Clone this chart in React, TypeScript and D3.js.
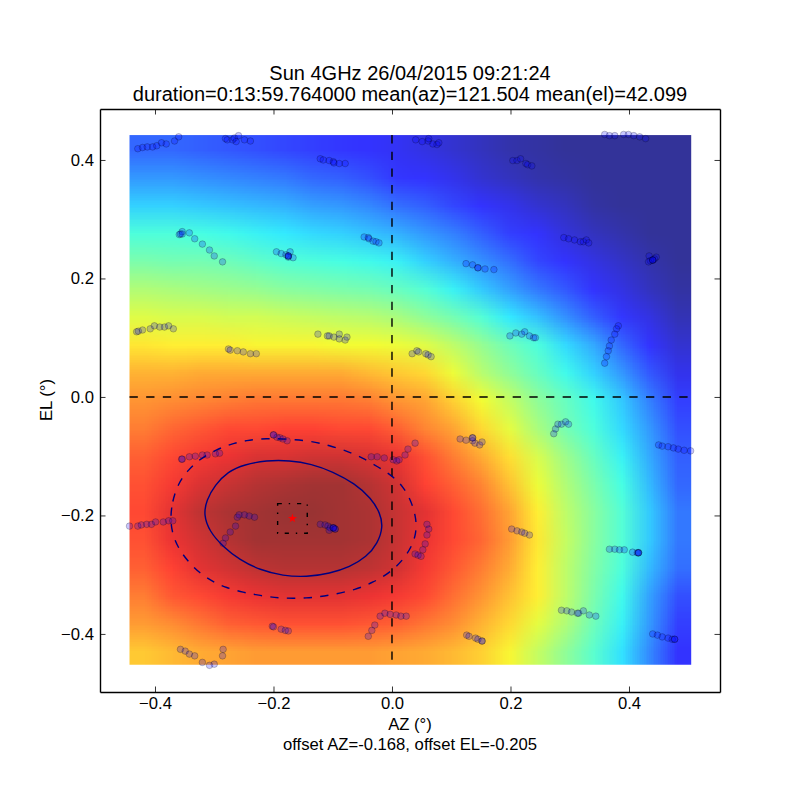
// @ts-nocheck
import React, { useEffect, useRef } from "react";
import * as d3 from "d3";

const FONT = "'Liberation Sans', Arial, sans-serif";

const xTicks = [-0.4, -0.2, 0, 0.2, 0.4];
const yTicks = [-0.4, -0.2, 0, 0.2, 0.4];

// image extent of the power map, in degrees
const mapAz = [-0.443, 0.505];
const mapEl = [0.442, -0.452];

// power map, percent of peak, top row first
const powerMap = [
  [19, 19, 18, 17, 16, 15, 14, 13, 12, 10, 8, 6, 4, 2, 1, 0, 0, 0, 0, 0],
  [25, 25, 24, 23, 22, 21, 19, 18, 16, 13, 11, 9, 6, 4, 2, 1, 0, 0, 0, 0],
  [32, 32, 31, 30, 29, 28, 26, 25, 23, 20, 18, 15, 12, 9, 6, 4, 1, 0, 0, 0],
  [39, 39, 38, 37, 36, 35, 33, 32, 30, 28, 25, 22, 18, 14, 11, 7, 4, 2, 0, 0],
  [46, 45, 45, 44, 42, 40, 39, 38, 37, 36, 32, 28, 24, 20, 15, 11, 8, 5, 2, 0],
  [54, 53, 52, 51, 50, 48, 47, 46, 45, 43, 40, 36, 31, 26, 21, 17, 12, 8, 4, 1],
  [61, 60, 60, 59, 59, 58, 57, 56, 55, 53, 49, 45, 40, 35, 30, 24, 18, 13, 8, 3],
  [67, 66, 66, 66, 65, 65, 65, 64, 64, 63, 61, 56, 50, 44, 39, 33, 27, 19, 12, 6],
  [74, 74, 75, 75, 75, 75, 75, 75, 73, 71, 69, 63, 55, 49, 43, 37, 32, 25, 17, 9],
  [78, 79, 80, 81, 82, 82, 82, 82, 81, 78, 76, 70, 64, 57, 49, 43, 37, 31, 22, 14],
  [81, 84, 86, 88, 88, 89, 89, 88, 88, 85, 80, 76, 69, 62, 53, 45, 39, 33, 25, 16],
  [85, 88, 90, 91, 93, 93, 94, 94, 93, 91, 87, 81, 75, 68, 60, 51, 43, 36, 27, 18],
  [87, 90, 93, 95, 97, 98, 99, 99, 97, 94, 89, 85, 80, 72, 63, 54, 46, 38, 29, 19],
  [88, 92, 96, 98, 99, 100, 100, 99, 98, 95, 92, 88, 83, 76, 66, 56, 48, 40, 31, 21],
  [87, 91, 94, 97, 99, 99, 99, 99, 98, 95, 91, 88, 84, 77, 67, 57, 48, 40, 31, 21],
  [85, 89, 92, 94, 96, 97, 97, 97, 96, 94, 90, 86, 81, 75, 66, 56, 47, 39, 29, 20],
  [81, 86, 88, 90, 91, 92, 92, 92, 91, 90, 88, 83, 78, 72, 66, 56, 46, 37, 26, 16],
  [77, 79, 82, 85, 86, 87, 87, 87, 86, 85, 82, 79, 74, 69, 62, 54, 44, 36, 25, 14],
  [71, 73, 75, 76, 77, 77, 77, 77, 77, 76, 75, 73, 70, 65, 57, 49, 41, 34, 23, 12],
];

// jet colormap stops
const jetStops = [0, 0.11, 0.125, 0.35, 0.375, 0.64, 0.66, 0.89, 0.91, 1];
const jetColors = ["#000080", "#0000ff", "#0000ff", "#00e5ff", "#16ffe1", "#f1fc00", "#ffeb00", "#ff1200", "#e80000", "#800000"];

// scan samples, one row per scan leg, last row holds the dwell repeats
const scanAz = [
  -0.429, -0.421, -0.413, -0.404, -0.397, -0.389, -0.381, -0.367, -0.36,
  -0.281, -0.278, -0.269, -0.266, -0.263, -0.259, -0.249, -0.239,
  -0.121, -0.116, -0.106, -0.099, -0.098, -0.089, -0.079,
  -0.354, -0.359, -0.357, -0.342, -0.333, -0.32, -0.308, -0.3, -0.286,
  -0.195, -0.187, -0.179, -0.175, -0.172, -0.175, -0.167,
  -0.047, -0.04, -0.039, -0.032, -0.027, -0.022,
  -0.431, -0.428, -0.421, -0.408, -0.401, -0.392, -0.384, -0.377, -0.369,
  -0.276, -0.273, -0.261, -0.251, -0.239, -0.229,
  -0.125, -0.109, -0.106, -0.098, -0.089, -0.089, -0.079, -0.076,
  0.04, 0.051, 0.061, 0.062, 0.069, 0.076, 0.079,
  0.204, 0.211, 0.217, 0.226, 0.229, 0.236,
  0.359, 0.367, 0.376, 0.391, 0.399, 0.408, 0.418, 0.428,
  0.29, 0.298, 0.308, 0.318, 0.323, 0.328, 0.332,
  0.434, 0.446, 0.443, 0.44, 0.436, 0.433,
  0.125, 0.136, 0.145, 0.157, 0.172,
  0.199, 0.209, 0.219, 0.224, 0.232, 0.239, 0.242,
  0.382, 0.379, 0.376, 0.37, 0.367, 0.365, 0.362, 0.359,
  0.034, 0.042, 0.045, 0.057, 0.061, 0.066,
  -0.2, -0.194, -0.189, -0.184, -0.177,
  -0.355, -0.354, -0.342, -0.332, -0.32, -0.312, -0.298, -0.291,
  -0.035, -0.025, -0.013, 0.002, 0.008, 0.012, 0.022, 0.027, 0.039,
  -0.443, -0.429, -0.423, -0.414, -0.406, -0.399, -0.386, -0.377, -0.37,
  -0.285, -0.281, -0.273, -0.264, -0.261, -0.258, -0.249, -0.241, -0.232,
  -0.121, -0.113, -0.108, -0.104, -0.106, -0.099, -0.096,
  -0.202, -0.2, -0.187, -0.18, -0.175,
  -0.357, -0.349, -0.342, -0.333, -0.32, -0.308, -0.3, -0.286, -0.285,
  -0.04, -0.034, -0.029, -0.02, -0.012, -0.003, 0.007, 0.015, 0.024,
  0.115, 0.125, 0.136, 0.136, 0.14, 0.148, 0.152,
  0.273, 0.276, 0.28, 0.286, 0.293, 0.298,
  0.45, 0.456, 0.466, 0.475, 0.483, 0.493, 0.504,
  0.059, 0.062, 0.059, 0.056, 0.052, 0.039, 0.044, 0.049,
  0.202, 0.211, 0.219, 0.224, 0.232,
  0.367, 0.376, 0.384, 0.392, 0.406, 0.414, 0.416,
  0.286, 0.295, 0.303, 0.313, 0.315, 0.323, 0.333, 0.344,
  0.126, 0.13, 0.141, 0.145, 0.152,
  0.44, 0.448, 0.456, 0.466, 0.473, 0.477,
  -0.099, -0.099, -0.096, 0.416, 0.416, 0.44, 0.44, -0.175, -0.175, -0.354, 0.145, 0.477, -0.2, 0.152, 0.136,
];
const scanEl = [
  0.419, 0.421, 0.422, 0.422, 0.424, 0.429, 0.427, 0.432, 0.439,
  0.436, 0.434, 0.434, 0.437, 0.431, 0.441, 0.434, 0.432,
  0.402, 0.4, 0.399, 0.397, 0.395, 0.394, 0.394,
  0.279, 0.274, 0.275, 0.277, 0.267, 0.258, 0.248, 0.238, 0.228,
  0.245, 0.242, 0.24, 0.238, 0.245, 0.236, 0.235,
  0.27, 0.269, 0.267, 0.263, 0.262, 0.26,
  0.11, 0.111, 0.113, 0.115, 0.12, 0.118, 0.118, 0.12, 0.115,
  0.081, 0.079, 0.078, 0.076, 0.073, 0.073,
  0.106, 0.103, 0.103, 0.101, 0.106, 0.098, 0.096, 0.101,
  0.434, 0.431, 0.432, 0.436, 0.427, 0.426, 0.429,
  0.399, 0.399, 0.402, 0.394, 0.392, 0.39,
  0.443, 0.441, 0.441, 0.443, 0.443, 0.441, 0.439, 0.436,
  0.269, 0.267, 0.265, 0.262, 0.262, 0.265, 0.26,
  0.238, 0.236, 0.233, 0.231, 0.23, 0.228,
  0.225, 0.223, 0.218, 0.216, 0.215,
  0.103, 0.108, 0.106, 0.11, 0.103, 0.1, 0.1,
  0.12, 0.115, 0.106, 0.096, 0.086, 0.078, 0.068, 0.057,
  0.073, 0.078, 0.076, 0.073, 0.071, 0.068,
  -0.064, -0.068, -0.069, -0.071, -0.074,
  -0.105, -0.105, -0.101, -0.1, -0.098, -0.098, -0.096, -0.095,
  -0.101, -0.101, -0.103, -0.106, -0.108, -0.106, -0.098, -0.088, -0.078,
  -0.218, -0.218, -0.216, -0.215, -0.215, -0.211, -0.211, -0.209, -0.209,
  -0.247, -0.238, -0.228, -0.218, -0.203, -0.199, -0.199, -0.201, -0.203,
  -0.215, -0.216, -0.218, -0.221, -0.225, -0.221, -0.223,
  -0.387, -0.388, -0.392, -0.394, -0.395,
  -0.426, -0.429, -0.434, -0.437, -0.448, -0.453, -0.451, -0.437, -0.426,
  -0.404, -0.394, -0.385, -0.37, -0.365, -0.367, -0.368, -0.37, -0.37,
  -0.071, -0.073, -0.069, -0.074, -0.078, -0.081, -0.076,
  -0.062, -0.054, -0.046, -0.046, -0.042, -0.046,
  -0.081, -0.083, -0.084, -0.086, -0.088, -0.09, -0.091,
  -0.215, -0.223, -0.233, -0.248, -0.258, -0.265, -0.267, -0.269,
  -0.223, -0.226, -0.228, -0.23, -0.233,
  -0.257, -0.257, -0.258, -0.258, -0.262, -0.263, -0.263,
  -0.36, -0.361, -0.363, -0.365, -0.365, -0.361, -0.368, -0.37,
  -0.402, -0.404, -0.407, -0.409, -0.412,
  -0.4, -0.402, -0.405, -0.407, -0.409, -0.409,
  -0.221, -0.221, -0.223, -0.263, -0.263, 0.231, 0.231, 0.238, 0.238, 0.275, 0.218, -0.409, -0.064, -0.412, -0.069,
];

// contours
const innerAz = [-0.318, -0.313, -0.299, -0.277, -0.249, -0.212, -0.173, -0.136, -0.1, -0.063, -0.035, -0.02, -0.015, -0.024, -0.043, -0.071, -0.105, -0.144, -0.184, -0.223, -0.257, -0.285, -0.308];
const innerEl = [-0.199, -0.174, -0.149, -0.126, -0.114, -0.107, -0.107, -0.113, -0.126, -0.146, -0.171, -0.196, -0.219, -0.247, -0.27, -0.287, -0.298, -0.304, -0.302, -0.292, -0.275, -0.253, -0.227];
const outerAz = [-0.374, -0.371, -0.361, -0.344, -0.322, -0.296, -0.274, -0.246, -0.212, -0.178, -0.139, -0.105, -0.074, -0.049, -0.024, -0.001, 0.019, 0.033, 0.041, 0.041, 0.033, 0.019, -0.004, -0.032, -0.06, -0.105, -0.144, -0.19, -0.223, -0.251, -0.28, -0.302, -0.325, -0.344, -0.361, -0.371];
const outerEl = [-0.205, -0.177, -0.146, -0.123, -0.103, -0.089, -0.08, -0.073, -0.07, -0.071, -0.074, -0.082, -0.092, -0.103, -0.118, -0.132, -0.151, -0.177, -0.205, -0.23, -0.253, -0.275, -0.297, -0.313, -0.325, -0.335, -0.34, -0.34, -0.335, -0.33, -0.322, -0.312, -0.297, -0.278, -0.255, -0.23];

const offsetAz = -0.168;
const offsetEl = -0.205;
const boxHalf = 0.025;

const App = () => {
  const svgRef = useRef();

  useEffect(() => {
    const left = 100;
    const right = 720;
    const top = 109;
    const bottom = 692;

    const svg = d3.select(svgRef.current);
    svg.selectAll("*").remove();

    const x = d3.scaleLinear().domain([-0.4928, 0.5536]).range([left, right]);
    const y = d3.scaleLinear().domain([0.486, -0.498]).range([top, bottom]);
    const jet = d3.scaleLinear().domain(jetStops).range(jetColors).clamp(true);

    // Paint the power map into a canvas, one pixel per value
    const rows = powerMap.length;
    const cols = powerMap[0].length;
    const canvas = document.createElement("canvas");
    canvas.width = cols;
    canvas.height = rows;
    const ctx = canvas.getContext("2d");
    powerMap.forEach((row, j) => {
      row.forEach((v, i) => {
        ctx.fillStyle = jet(v / 100);
        ctx.fillRect(i, j, 1, 1);
      });
    });

    svg
      .append("image")
      .attr("href", canvas.toDataURL())
      .attr("x", x(mapAz[0]))
      .attr("y", y(mapEl[0]))
      .attr("width", x(mapAz[1]) - x(mapAz[0]))
      .attr("height", y(mapEl[1]) - y(mapEl[0]))
      .attr("preserveAspectRatio", "none")
      .attr("opacity", 0.8);

    // Scan samples
    svg
      .append("g")
      .selectAll("circle")
      .data(scanAz.map((az, i) => [az, scanEl[i]]))
      .enter()
      .append("circle")
      .attr("cx", (d) => x(d[0]))
      .attr("cy", (d) => y(d[1]))
      .attr("r", 3.3)
      .attr("fill", "#0000ff")
      .attr("fill-opacity", 0.22)
      .attr("stroke", "#000000")
      .attr("stroke-opacity", 0.22)
      .attr("stroke-width", 1);

    // Zero lines across the map
    svg
      .append("line")
      .attr("x1", x(0))
      .attr("x2", x(0))
      .attr("y1", y(mapEl[0]))
      .attr("y2", y(mapEl[1]))
      .attr("stroke", "black")
      .attr("stroke-width", 1.4)
      .attr("stroke-dasharray", "8.33,8.33");
    svg
      .append("line")
      .attr("x1", x(mapAz[0]))
      .attr("x2", x(mapAz[1]))
      .attr("y1", y(0))
      .attr("y2", y(0))
      .attr("stroke", "black")
      .attr("stroke-width", 1.4)
      .attr("stroke-dasharray", "8.33,8.33");

    // Contours
    const contour = d3
      .line()
      .x((d) => x(d[0]))
      .y((d) => y(d[1]))
      .curve(d3.curveBasisClosed);
    svg
      .append("path")
      .attr("d", contour(innerAz.map((az, i) => [az, innerEl[i]])))
      .attr("fill", "none")
      .attr("stroke", "#000080")
      .attr("stroke-width", 1.4);
    svg
      .append("path")
      .attr("d", contour(outerAz.map((az, i) => [az, outerEl[i]])))
      .attr("fill", "none")
      .attr("stroke", "#000080")
      .attr("stroke-width", 1.4)
      .attr("stroke-dasharray", "8.33,8.33");

    // Error box and pointing offset
    svg
      .append("rect")
      .attr("x", x(offsetAz - boxHalf))
      .attr("y", y(offsetEl + boxHalf))
      .attr("width", x(offsetAz + boxHalf) - x(offsetAz - boxHalf))
      .attr("height", y(offsetEl - boxHalf) - y(offsetEl + boxHalf))
      .attr("fill", "none")
      .attr("stroke", "black")
      .attr("stroke-width", 1.4)
      .attr("stroke-dasharray", "4.2,6.9,1.4,6.9");
    svg
      .append("path")
      .attr("d", d3.symbol().type(d3.symbolStar).size(26)())
      .attr("transform", `translate(${x(offsetAz)},${y(offsetEl)})`)
      .attr("fill", "#ff0000");

    // Axes on all four sides, ticks inward
    const tickFormat = d3.format(".1f");
    const styleAxis = (g) => {
      g.selectAll("path").attr("stroke", "black").attr("stroke-width", 1.4);
      g.selectAll("line").attr("stroke", "black").attr("stroke-width", 0.8);
      g.selectAll("text").attr("font-family", FONT).attr("font-size", 16.67).attr("fill", "black");
    };
    svg
      .append("g")
      .attr("transform", `translate(0,${bottom})`)
      .call(d3.axisBottom(x).tickValues(xTicks).tickFormat(tickFormat).tickSizeInner(-5.5).tickSizeOuter(0).tickPadding(5))
      .call(styleAxis);
    svg
      .append("g")
      .attr("transform", `translate(0,${top})`)
      .call(d3.axisTop(x).tickValues(xTicks).tickFormat("").tickSizeInner(-5.5).tickSizeOuter(0))
      .call(styleAxis);
    svg
      .append("g")
      .attr("transform", `translate(${left},0)`)
      .call(d3.axisLeft(y).tickValues(yTicks).tickFormat(tickFormat).tickSizeInner(-5.5).tickSizeOuter(0).tickPadding(6))
      .call(styleAxis);
    svg
      .append("g")
      .attr("transform", `translate(${right},0)`)
      .call(d3.axisRight(y).tickValues(yTicks).tickFormat("").tickSizeInner(-5.5).tickSizeOuter(0))
      .call(styleAxis);

    // Text
    const label = (text, tx, ty, size) =>
      svg
        .append("text")
        .attr("x", tx)
        .attr("y", ty)
        .attr("text-anchor", "middle")
        .attr("font-family", FONT)
        .attr("font-size", size)
        .attr("fill", "black")
        .text(text);
    label("Sun 4GHz 26/04/2015 09:21:24", 410, 79.5, 20);
    label("duration=0:13:59.764000 mean(az)=121.504 mean(el)=42.099", 410, 101, 20);
    label("AZ (°)", 410, 730, 16.67);
    label("offset AZ=-0.168, offset EL=-0.205", 410, 750, 16.67);
    label("EL (°)", 0, 0, 16.67).attr("transform", "translate(52,400) rotate(-90)");
  }, []);

  return (
    <svg
      ref={svgRef}
      width={800}
      height={800}
      style={{ position: "absolute", left: 0, top: 0, background: "white" }}
    ></svg>
  );
};

export default App;
